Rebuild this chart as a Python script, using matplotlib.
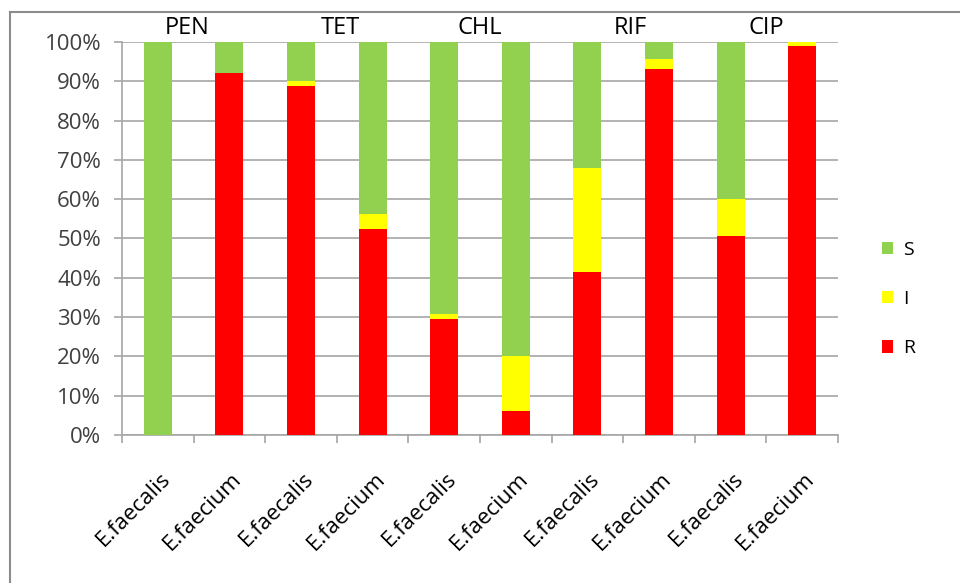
import numpy as np
from matplotlib import pyplot as plt
from matplotlib.lines import Line2D
from matplotlib.ticker import PercentFormatter
from matplotlib.transforms import ScaledTranslation

# percent of isolates per antibiotic / species
antibiotics = ["PEN", "TET", "CHL", "RIF", "CIP"]
species = ["E.faecalis", "E.faecium"]
resistant = [0, 92, 88.8, 52.5, 29.5, 6, 41.5, 93, 50.6, 99]
intermediate = [0, 0, 1.3, 3.6, 1.2, 14, 26.5, 2.6, 9.4, 1]
susceptible = [100 - r - i for r, i in zip(resistant, intermediate)]
title_pos = [0.41, 2.55, 4.5, 6.6, 8.5]


def main():
    plt.rcParams['font.family'] = ['Open Sans', 'DejaVu Sans']
    fig = plt.figure(figsize=(9.6, 5.83), dpi=100)
    ax = fig.add_axes([0.127, 0.254, 0.746, 0.674])

    labels = species * len(antibiotics)
    x = np.arange(len(labels)) + 0.5
    w = 0.39
    r = np.array(resistant)
    i = np.array(intermediate)
    s = np.array(susceptible)
    ax.bar(x, r, w, color="#ff0000", label="R", zorder=3)
    ax.bar(x, i, w, bottom=r, color="#ffff00", label="I", zorder=3)
    ax.bar(x, s, w, bottom=r + i, color="#92d050", label="S", zorder=3)

    ax.set_xlim(0, len(labels))
    ax.set_ylim(0, 100)
    ax.set_yticks(np.arange(0, 101, 10))
    ax.yaxis.set_major_formatter(PercentFormatter(decimals=0))
    ax.yaxis.grid(True, color="#a6a6a6", linewidth=1.2, zorder=0)

    ax.set_xticks(np.arange(len(labels) + 1))
    ax.set_xticklabels([])
    ax.set_xticks(x, minor=True)
    ax.set_xticklabels(labels, minor=True, rotation=45, ha="right",
                       rotation_mode="anchor", fontsize=16)
    ax.tick_params(axis="x", which="minor", length=0, pad=24)
    ax.tick_params(axis="x", which="major", length=6, color="#a6a6a6", width=1.2)
    ax.tick_params(axis="y", length=6, color="#a6a6a6", width=1.2,
                   labelsize=16, labelcolor="#404040", pad=9)
    shift = ScaledTranslation(2 / 100, 0, fig.dpi_scale_trans)
    for lab in ax.get_xticklabels(minor=True):
        lab.set_transform(lab.get_transform() + shift)

    for side in ["top", "right"]:
        ax.spines[side].set_visible(False)
    for side in ["left", "bottom"]:
        ax.spines[side].set_color("#a6a6a6")
        ax.spines[side].set_linewidth(1.2)

    for name, px in zip(antibiotics, title_pos):
        ax.text(px + 0.5, 100.6, name, ha="center", va="bottom", fontsize=17)

    handles, names = ax.get_legend_handles_labels()
    fig.legend(handles[::-1], names[::-1], loc="center left",
               bbox_to_anchor=(0.9, 0.487), frameon=False, fontsize=14,
               handlelength=0.6, handleheight=0.6, labelspacing=1.6,
               handletextpad=0.5)

    # outer chart border
    fig.add_artist(Line2D([0.0105, 0.0105], [0, 0.98], color="#8c8c8c", lw=1.5))
    fig.add_artist(Line2D([0.0105, 1], [0.98, 0.98], color="#8c8c8c", lw=1.5))

    fig.savefig("out.png", dpi=100)


if __name__ == "__main__":
    main()
